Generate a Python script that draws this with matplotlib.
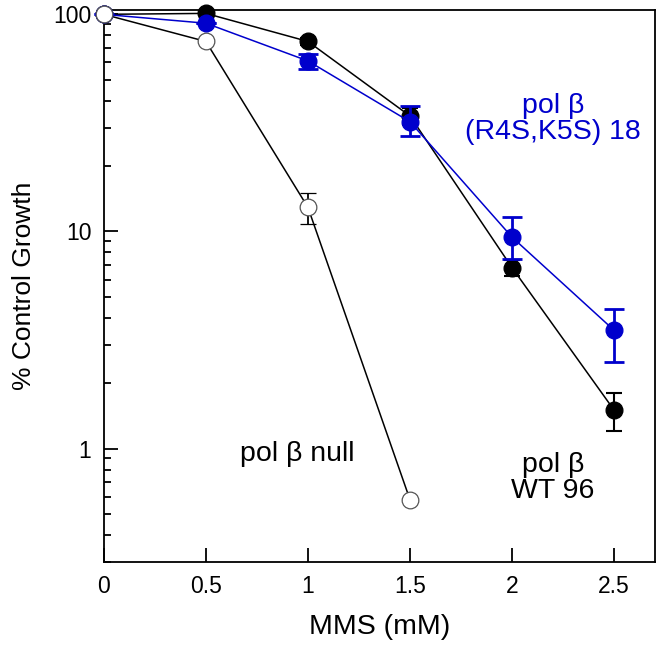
import matplotlib

matplotlib.use("Agg")

import matplotlib.pyplot as plt
from matplotlib.ticker import FixedLocator, LogLocator, NullFormatter

plt.rcParams["font.family"] = ["Liberation Sans", "DejaVu Sans"]

# MMS dose (mM)
dose = [0, 0.5, 1, 1.5, 2, 2.5]

# pol beta WT 96 (black filled)
wt_growth = [100, 101, 75, 34, 6.8, 1.5]
wt_lo = [0, 0, 3, 3, 0.6, 0.3]
wt_hi = [0, 0, 3, 3, 0.6, 0.3]

# pol beta (R4S,K5S) 18 (blue filled)
mut_growth = [100, 91, 61, 32, 9.4, 3.5]
mut_lo = [0, 0, 5, 4.6, 1.95, 1.0]
mut_hi = [0, 0, 5, 6, 2.3, 0.9]

# pol beta null (open)
null_dose = [0, 0.5, 1, 1.5]
null_growth = [100, 75, 12.9, 0.58]
null_lo = [0, 0, 2.1, 0]
null_hi = [0, 0, 2.2, 0]

BLUE = "#0000CC"

fig = plt.figure(figsize=(6.61, 6.49), dpi=100)
ax = fig.add_axes([0.157, 0.134, 0.834, 0.851])

kw = dict(lw=1.1, marker="o", markersize=12, clip_on=False)
ax.errorbar(null_dose, null_growth, yerr=[null_lo, null_hi], color="black",
            capsize=6, capthick=1.3, elinewidth=1.3,
            markerfacecolor="white", markeredgecolor="#555555",
            markeredgewidth=0.9, zorder=3, **kw)
ax.errorbar(dose, wt_growth, yerr=[wt_lo, wt_hi], color="black",
            capsize=6, capthick=1.5, elinewidth=1.5,
            markerfacecolor="black", markeredgecolor="black",
            zorder=4, **kw)
ax.errorbar(dose, mut_growth, yerr=[mut_lo, mut_hi], color=BLUE,
            capsize=7, capthick=2, elinewidth=2,
            markerfacecolor=BLUE, markeredgecolor=BLUE,
            zorder=5, **kw)
# shared 100% point drawn open on top
ax.plot([0], [100], marker="o", markersize=12, markerfacecolor="white",
        markeredgecolor="#555555", markeredgewidth=0.9, zorder=6,
        clip_on=False)

ax.set_yscale("log")
ax.set_xlim(0, 2.7)
ax.set_ylim(0.3, 105)
ax.set_xticks([0, 0.5, 1, 1.5, 2, 2.5])
ax.set_xticklabels(["0", "0.5", "1", "1.5", "2", "2.5"])
ax.yaxis.set_major_locator(FixedLocator([1, 10, 100]))
ax.set_yticklabels(["1", "10", "100"])
ax.yaxis.set_minor_locator(LogLocator(base=10, subs=range(2, 10)))
ax.yaxis.set_minor_formatter(NullFormatter())

ax.tick_params(which="both", direction="in", top=False, right=False,
               labelsize=16.5, pad=9, width=1.3)
ax.tick_params(which="major", length=10)
ax.tick_params(which="minor", length=5)
for s in ax.spines.values():
    s.set_linewidth(1.3)

ax.set_xlabel("MMS (mM)", fontsize=20.5, labelpad=12)
ax.set_ylabel("% Control Growth", fontsize=19, labelpad=12)

ax.text(0.95, 0.94, "pol \u03b2 null", fontsize=20.5, ha="center", va="center")
ax.text(2.2, 0.735, "pol \u03b2\nWT 96", fontsize=20.5, ha="center",
        va="center", linespacing=1.0)
ax.text(2.2, 32.8, "pol \u03b2\n(R4S,K5S) 18", fontsize=20.5, ha="center",
        va="center", color=BLUE, linespacing=1.0)

fig.savefig("out.png", dpi=100)
